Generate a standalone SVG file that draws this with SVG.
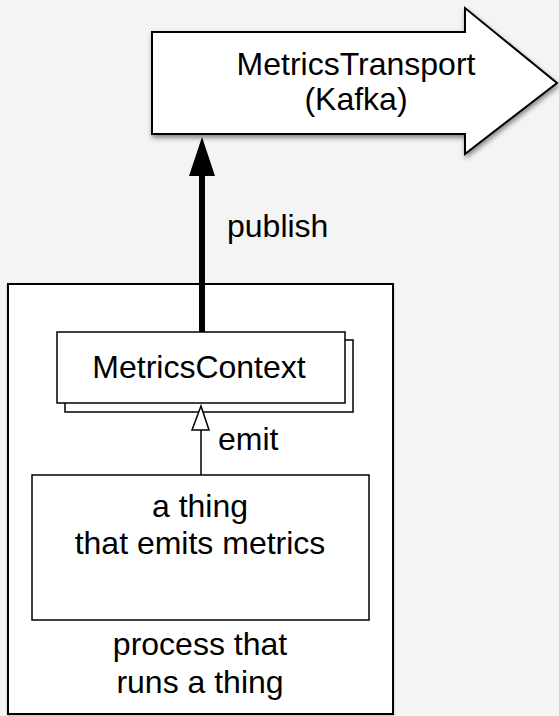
<svg xmlns="http://www.w3.org/2000/svg" width="559" height="716" viewBox="0 0 559 716">
  <style>
    .box { fill: #ffffff; stroke: #000000; stroke-width: 2; }
    .thin { fill: #ffffff; stroke: #000000; stroke-width: 1.5; }
    .lbl { font-family: "Liberation Sans", Arial, sans-serif; font-size: 32px; fill: #000000; text-anchor: middle; }
    .lbl-l { font-family: "Liberation Sans", Arial, sans-serif; font-size: 32px; fill: #000000; }
  </style>
  <defs>
    <filter id="shadow" x="-10%" y="-10%" width="130%" height="140%">
      <feDropShadow dx="1" dy="3" stdDeviation="2.5" flood-color="#000000" flood-opacity="0.45"/>
    </filter>
    <filter id="soft" x="-5%" y="-5%" width="110%" height="110%">
      <feDropShadow dx="0" dy="1" stdDeviation="1" flood-color="#000000" flood-opacity="0.25"/>
    </filter>
  </defs>

  <rect width="559" height="716" fill="#f4f4f4"/>

  <!-- Transport: block arrow -->
  <g id="metrics-transport">
    <path class="box" filter="url(#shadow)" d="M152,32 L465,32 L465,8 L557,83 L465,154 L465,134 L152,134 Z"/>
    <text class="lbl" x="356" y="75">MetricsTransport</text>
    <text class="lbl" x="356" y="110">(Kafka)</text>
  </g>

  <!-- Container process -->
  <g id="process">
    <rect class="box" filter="url(#soft)" x="8" y="284" width="385" height="430"/>
    <text class="lbl" x="200" y="655">process that</text>
    <text class="lbl" x="200" y="693">runs a thing</text>
  </g>

  <!-- Stacked context -->
  <g id="metrics-context">
    <rect class="thin" x="65" y="340" width="288" height="72"/>
    <rect class="thin" x="57" y="332" width="288" height="71"/>
    <text class="lbl" x="199" y="378">MetricsContext</text>
  </g>

  <!-- Emitter -->
  <g id="thing">
    <rect class="thin" x="32" y="475" width="337" height="145"/>
    <text class="lbl" x="200" y="517">a thing</text>
    <text class="lbl" x="200" y="554">that emits metrics</text>
  </g>

  <g id="connectors">
    <!-- publish -->
    <line x1="202" y1="332" x2="202" y2="168" stroke="#000000" stroke-width="6"/>
    <path d="M202,137 L215,176 L189,176 Z" fill="#000000"/>
    <text class="lbl-l" x="227" y="237">publish</text>
    <!-- emit -->
    <line x1="201" y1="475" x2="201" y2="430" stroke="#000000" stroke-width="1.5"/>
    <path d="M201,406 L209,430 L192,430 Z" fill="#ffffff" stroke="#000000" stroke-width="1.5"/>
    <text class="lbl-l" x="218" y="450">emit</text>
  </g>
</svg>
